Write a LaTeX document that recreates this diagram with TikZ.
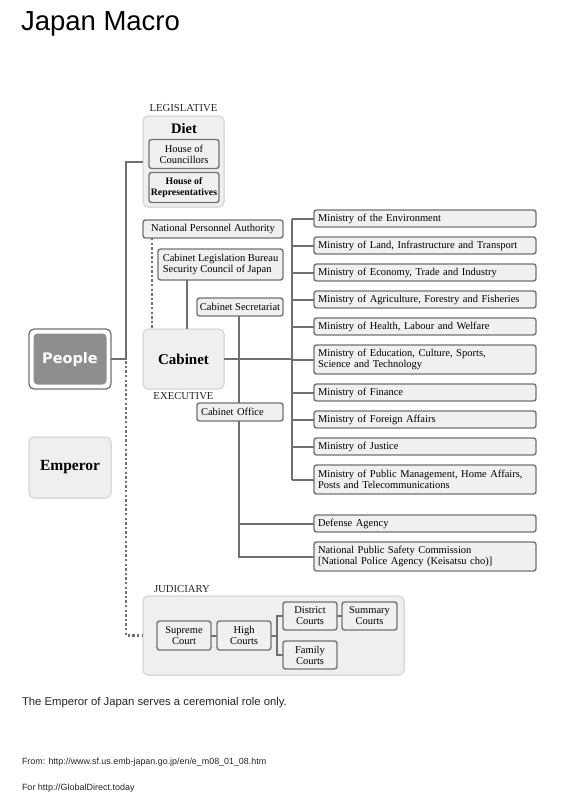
\documentclass[tikz,border=0pt]{standalone}
\usepackage{fontspec}
\setmainfont{Liberation Serif}
\newfontfamily\hsans{Liberation Sans}
\newfontfamily\dsans{DejaVu Sans}
\begin{document}
\begin{tikzpicture}[x=1pt,y=-1pt,
  every node/.style={inner sep=0pt, outer sep=0pt},
  txt/.style={font=\fontsize{10.5}{11}\selectfont},
  bx/.style={draw=boxline, fill=boxfill, line width=1.4pt, rounded corners=2.5pt, txt, align=center},
  mbox/.style={bx, anchor=west, minimum width=222pt, text width=214pt, align=left, inner xsep=4pt},
  pale/.style={draw=paleline, fill=palefill, line width=1.5pt, rounded corners=5pt},
  conn/.style={draw=connline, line width=2pt},
  dots/.style={draw=connline, line width=2.6pt, dash pattern=on 2.4pt off 2.2pt},
  lbl/.style={font=\fontsize{10.7}{11}\selectfont, text=black!85}
]
\definecolor{boxfill}{HTML}{F0F0F0}
\definecolor{boxline}{HTML}{737373}
\definecolor{palefill}{HTML}{EFEFEF}
\definecolor{paleline}{HTML}{DCDCDC}
\definecolor{connline}{HTML}{707070}
\definecolor{peoplefill}{HTML}{8E8E8E}
\useasboundingbox[fill=white] (0,0) rectangle (565,800);

% title
\node[anchor=west, font=\hsans\fontsize{27.5}{30}\selectfont] (title) at (21,24) {Japan Macro};

% People & Emperor
\node[draw=boxline, fill=white, line width=1.3pt, rounded corners=5pt, minimum width=82pt, minimum height=60pt] (people) at (70,359) {};
\node[fill=peoplefill, rounded corners=4pt, minimum width=73pt, minimum height=51pt, text=white, font=\dsans\bfseries\fontsize{14.5}{16}\selectfont] (peoplein) at (70,359) {People};
\node[pale, minimum width=82pt, minimum height=61pt, font=\bfseries\fontsize{15.5}{16}\selectfont] (emperor) at (70,467.5) {Emperor};

% Diet
\node[lbl] (legis) at (183.5,108.5) {LEGISLATIVE};
\node[pale, minimum width=81pt, minimum height=91pt] (diet) at (183.5,161.5) {};
\node[font=\bfseries\fontsize{14.5}{15}\selectfont] (dietlbl) at (184,129) {Diet};
\node[bx, minimum width=70pt, minimum height=29pt] (hoc) at (184,154) {House of\\Councillors};
\node[bx, minimum width=70pt, minimum height=30pt, font=\bfseries\fontsize{9.8}{11}\selectfont] (hor) at (184,187.5) {House of\\Representatives};

% Executive side
\node[bx, minimum width=140pt, minimum height=18pt] (npa) at (213,229) {National Personnel Authority};
\node[bx, minimum width=125pt, minimum height=31pt, align=left] (clb) at (220.5,264.5) {Cabinet Legislation Bureau\\Security Council of Japan};
\node[bx, minimum width=86pt, minimum height=18pt] (sec) at (240,307) {Cabinet Secretariat};
\node[pale, minimum width=81pt, minimum height=60pt, font=\bfseries\fontsize{15}{16}\selectfont] (cabinet) at (183.5,359) {Cabinet};
\node[lbl] (exec) at (183.5,396) {EXECUTIVE};
\node[bx, minimum width=86pt, minimum height=18pt, align=left, text width=78pt] (office) at (240,412) {Cabinet Office};

% Ministries
\node[mbox, minimum height=17pt] (m1) at (314,218.5) {Ministry of the Environment};
\node[mbox, minimum height=17pt] (m2) at (314,245.5) {Ministry of Land, Infrastructure and Transport};
\node[mbox, minimum height=17pt] (m3) at (314,272.5) {Ministry of Economy, Trade and Industry};
\node[mbox, minimum height=17pt] (m4) at (314,299.5) {Ministry of Agriculture, Forestry and Fisheries};
\node[mbox, minimum height=17pt] (m5) at (314,326.5) {Ministry of Health, Labour and Welfare};
\node[mbox, minimum height=29pt] (m6) at (314,359.5) {Ministry of Education, Culture, Sports,\\Science and Technology};
\node[mbox, minimum height=17pt] (m7) at (314,392.5) {Ministry of Finance};
\node[mbox, minimum height=17pt] (m8) at (314,419.5) {Ministry of Foreign Affairs};
\node[mbox, minimum height=17pt] (m9) at (314,446.5) {Ministry of Justice};
\node[mbox, minimum height=29pt] (m10) at (314,479.5) {Ministry of Public Management, Home Affairs,\\Posts and Telecommunications};
\node[mbox, minimum height=17pt] (m11) at (314,523.5) {Defense Agency};
\node[mbox, minimum height=29pt] (m12) at (314,556.5) {National Public Safety Commission\\{[}National Police Agency (Keisatsu cho){]}};

% Judiciary
\node[lbl, anchor=west] (judlbl) at (154,589) {JUDICIARY};
\node[pale, minimum width=261pt, minimum height=79pt] (jud) at (273.5,635.5) {};
\node[bx, minimum width=54pt, minimum height=29pt] (supreme) at (184,635.5) {Supreme\\Court};
\node[bx, minimum width=54pt, minimum height=29pt] (high) at (244,635.5) {High\\Courts};
\node[bx, minimum width=54pt, minimum height=28pt] (district) at (310,616) {District\\Courts};
\node[bx, minimum width=55pt, minimum height=28pt] (summary) at (369.5,616) {Summary\\Courts};
\node[bx, minimum width=54pt, minimum height=28pt] (family) at (310,655) {Family\\Courts};

% connectors: people
\coordinate (pj) at (126,359);
\draw[conn] (people.east) -- (pj) |- (diet.west);
\draw[dots] ([yshift=7pt]pj) |- (jud.west);

% executive connectors
\draw[dots] ([xshift=-61pt]npa.south) -- ([xshift=-61pt]npa.south |- cabinet.north);
\draw[conn] ([xshift=3pt]cabinet.north |- clb.south) -- ([xshift=3pt]cabinet.north);
\draw[conn] ([xshift=-1pt]sec.south) -- ([xshift=-1pt]office.north);
\coordinate (mbus) at (292,359);
\draw[conn] (cabinet.east) -- (mbus);
\draw[conn] (mbus |- m1.west) -- (mbus |- m10.west);
\foreach \m in {m1,m2,m3,m4,m5,m6,m7,m8,m9,m10}{
  \draw[conn] (mbus |- \m.west) -- (\m.west);
}
\draw[conn] ([xshift=-1pt]office.south) -- ([xshift=-1pt]office.south |- m12.west) -- (m12.west);
\draw[conn] ([xshift=-1pt]office.south |- m11.west) -- (m11.west);

% judiciary connectors
\coordinate (jb) at (277,635.5);
\draw[conn] (supreme.east) -- (high.west);
\draw[conn] (high.east) -- (jb);
\draw[conn] (district.west) -| (jb) |- (family.west);
\draw[conn] (district.east) -- (summary.west);

% footer texts
\node[anchor=west, font=\hsans\fontsize{11.3}{12}\selectfont, text=black!85] (note) at (22,703) {The Emperor of Japan serves a ceremonial role only.};
\node[anchor=west, font=\hsans\fontsize{8.9}{10}\selectfont, text=black!85] (from) at (22,762) {From: http://www.sf.us.emb-japan.go.jp/en/e\_m08\_01\_08.htm};
\node[anchor=west, font=\hsans\fontsize{9}{10}\selectfont, text=black!85] (for) at (22,788) {For http://GlobalDirect.today};
\end{tikzpicture}
\end{document}
